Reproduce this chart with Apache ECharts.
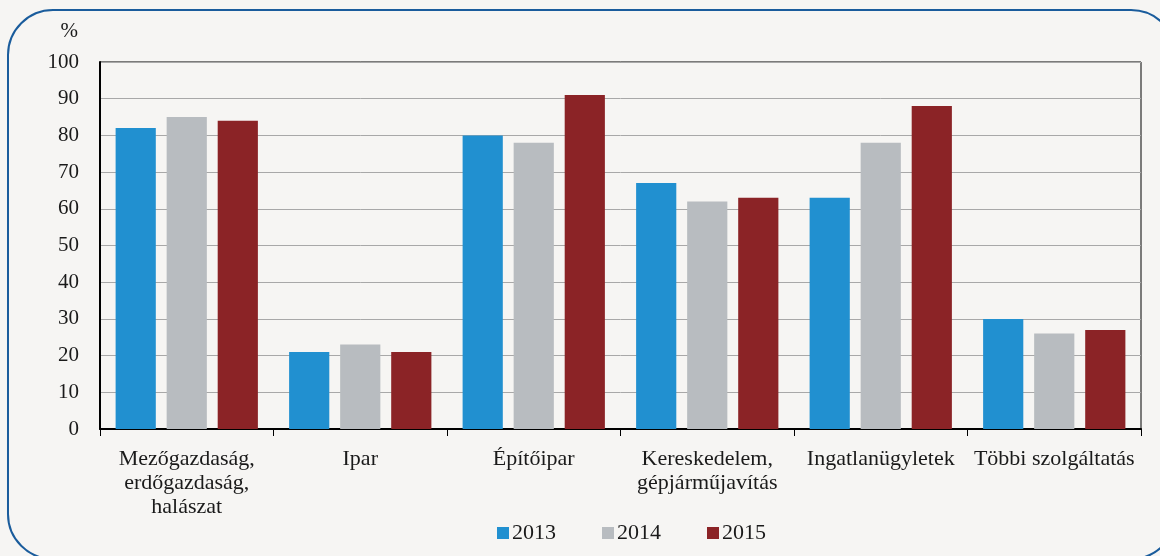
<!DOCTYPE html>
<html>
<head>
<meta charset="utf-8">
<script src="https://cdn.jsdelivr.net/npm/echarts@6/dist/echarts.min.js"></script>
<style>
  html, body { margin: 0; padding: 0; background: #f6f5f3; }
  #chart { width: 1160px; height: 556px; }
</style>
</head>
<body>
<div id="chart"></div>
<script>
// ágazatok
var categories = [
  "Mezőgazdaság,\nerdőgazdaság,\nhalászat",
  "Ipar",
  "Építőipar",
  "Kereskedelem,\ngépjárműjavítás",
  "Ingatlanügyletek",
  "Többi szolgáltatás"
];
var years = ["2013", "2014", "2015"];
var values2013 = [82, 21, 80, 67, 63, 30];
var values2014 = [85, 23, 78, 62, 78, 26];
var values2015 = [84, 21, 91, 63, 88, 27];
var colors = ["#2190d0", "#b8bcc0", "#8b2326"];

var myChart = echarts.init(document.getElementById("chart"));
var font = "Liberation Serif";

var series = [];
[values2013, values2014, values2015].forEach(function (vals, i) {
  series.push({
    name: years[i],
    type: "bar",
    data: vals,
    barGap: "27%",
    barCategoryGap: "18%",
    itemStyle: { color: colors[i] }
  });
});

var option = {
  backgroundColor: "#f6f5f3",
  color: colors,
  textStyle: { fontFamily: font },
  graphic: [
    {
      type: "rect",
      shape: { x: 8, y: 10, width: 1168, height: 549, r: 45 },
      style: { fill: "none", stroke: "#1a5c9c", lineWidth: 2 },
      silent: true
    }
  ],
  grid: {
    left: 100,
    right: 19,
    top: 62,
    bottom: 127,
    show: true,
    borderColor: "#000",
    borderWidth: 1,
    backgroundColor: "transparent"
  },
  legend: {
    data: years,
    bottom: 7,
    left: 492,
    itemWidth: 12,
    itemHeight: 12,
    itemGap: 46,
    icon: "rect",
    textStyle: { fontFamily: font, fontSize: 22, color: "#1a1a1a", padding: [0, 0, 0, -2] }
  },
  xAxis: {
    type: "category",
    data: categories,
    axisLine: { lineStyle: { color: "#000", width: 2 } },
    axisTick: { show: true, length: 7, lineStyle: { color: "#000" } },
    axisLabel: {
      fontFamily: font,
      fontSize: 22,
      color: "#1a1a1a",
      lineHeight: 24,
      margin: 18,
      interval: 0
    }
  },
  yAxis: {
    type: "value",
    min: 0,
    max: 100,
    interval: 10,
    name: "%",
    nameLocation: "end",
    nameGap: 20,
    nameTextStyle: { fontFamily: font, fontSize: 21, color: "#1a1a1a", align: "right", padding: [0, 22, 0, 0] },
    axisLine: { show: true, lineStyle: { color: "#000", width: 2 } },
    axisTick: { show: false },
    axisLabel: { fontFamily: font, fontSize: 21, color: "#1a1a1a", margin: 21 },
    splitLine: { show: true, lineStyle: { color: "#a8a8a8", width: 1 } }
  },
  series: series
};

myChart.setOption(option);
</script>
</body>
</html>
